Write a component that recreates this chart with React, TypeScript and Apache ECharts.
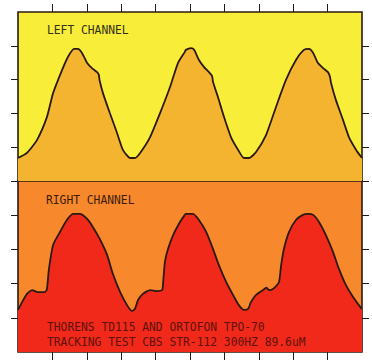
import React, { useEffect, useRef } from "react";
import * as echarts from "echarts";

// Horizontal position (0–100, ten divisions) and deflection (0–50, five divisions per channel)
const leftX = [0, 2.6, 5.5, 8.4, 10.2, 12.8, 14.5, 16.3, 17.4, 18.6, 20.1, 21.5, 23.0, 23.5, 23.7, 24.7, 26.7, 28.8, 30.5, 32.6, 34.0, 35.5, 38.4, 41.3, 44.2, 46.5, 48.5, 48.8, 50.3, 51.2, 52.6, 54.1, 55.5, 56.4, 56.7, 58.1, 59.9, 61.9, 64.0, 65.7, 67.2, 69.2, 72.1, 75.0, 77.9, 80.8, 83.1, 84.6, 85.8, 87.2, 88.7, 90.1, 90.7, 91.0, 92.4, 94.5, 96.2, 98.3, 100];
const leftY = [6.8, 8.3, 12.1, 18.9, 26.0, 32.8, 36.7, 39.1, 39.1, 37.9, 34.9, 33.4, 32.2, 31.4, 29.9, 26.0, 20.1, 14.2, 9.2, 6.8, 6.8, 8.3, 13.0, 20.1, 27.8, 34.9, 38.2, 38.8, 39.3, 38.8, 35.8, 33.7, 32.2, 31.1, 29.3, 24.9, 18.9, 13.0, 9.2, 6.8, 6.8, 8.6, 13.6, 21.9, 29.9, 35.8, 38.8, 39.1, 37.9, 34.9, 33.4, 32.2, 30.8, 29.0, 24.0, 18.0, 13.0, 9.2, 6.8];

const rightX = [0, 1.2, 2.6, 4.1, 5.8, 7.8, 8.4, 9.0, 10.2, 12.2, 14.2, 16.0, 18.0, 20.1, 21.8, 23.8, 25.9, 27.6, 29.7, 31.7, 33.1, 34.0, 34.9, 36.3, 38.4, 40.4, 41.9, 42.2, 42.7, 43.6, 45.1, 47.1, 48.5, 48.8, 50.9, 52.6, 54.7, 56.7, 58.4, 60.5, 62.5, 64.2, 65.7, 66.9, 67.7, 69.2, 71.2, 72.2, 73.0, 74.1, 75.3, 75.9, 76.5, 77.3, 78.8, 80.8, 82.8, 84.3, 85.8, 87.5, 89.5, 91.6, 93.3, 95.3, 97.4, 99.7, 100];
const rightY = [12.3, 14.6, 17.0, 18.1, 17.5, 17.5, 18.4, 24.3, 31.3, 35.1, 38.6, 40.4, 40.4, 38.9, 36.5, 33.0, 28.4, 22.8, 17.5, 13.7, 12.0, 12.6, 15.2, 17.0, 18.1, 17.8, 18.1, 20.5, 26.3, 30.1, 34.2, 38.0, 40.1, 40.4, 40.4, 38.6, 35.1, 30.1, 25.4, 20.5, 16.7, 13.7, 12.3, 12.6, 14.6, 16.7, 18.1, 18.8, 18.1, 18.4, 19.6, 20.5, 25.4, 30.1, 35.1, 38.6, 40.1, 40.4, 40.1, 38.0, 34.2, 29.2, 24.3, 19.6, 16.1, 12.9, 12.6];

const xTicks = [10, 20, 30, 40, 50, 60, 70, 80, 90];
const yTicksTop = [0, 10, 20, 30, 40];
const yTicksBottom = [10, 20, 30, 40];

const labelLeft = "LEFT CHANNEL";
const labelRight = "RIGHT CHANNEL";
const caption1 = "THORENS TD115 AND ORTOFON TPO-70";
const caption2 = "TRACKING TEST CBS STR-112 300HZ 89.6uM";

const INK = "#2a1a10";

export default function App() {
  const ref = useRef<HTMLDivElement>(null);
  useEffect(() => {
    if (!ref.current) return;
    const chart = echarts.init(ref.current, null, { renderer: "svg" });
    const zip = (xs: number[], ys: number[]) => xs.map((x, i) => [x, ys[i]]);
    const tick = (values: number[], length: number) => ({
      show: true,
      inside: false,
      length,
      customValues: values,
      lineStyle: { color: INK, width: 1 },
    });
    const xAxisBase = (gridIndex: number, position: string) => ({
      type: "value",
      gridIndex,
      position,
      min: 0,
      max: 100,
      interval: 10,
      axisLine: { show: false, onZero: false },
      axisTick: tick(xTicks, 8),
      axisLabel: { show: false },
      splitLine: { show: false },
    });
    const yAxisBase = (gridIndex: number, position: string, ticks: number[]) => ({
      type: "value",
      gridIndex,
      position,
      min: 0,
      max: 50,
      interval: 10,
      axisLine: { show: false, onZero: false },
      axisTick: tick(ticks, 7),
      axisLabel: { show: false },
      splitLine: { show: false },
    });
    const textEl = (s: string, x: number, y: number, fill: string) => ({
      type: "text",
      x,
      y,
      scaleX: 0.87,
      z: 100,
      style: {
        text: s,
        x: 0,
        y: 0,
        fill,
        font: "13px 'DejaVu Sans Mono'",
        textVerticalAlign: "middle",
      },
    });
    chart.setOption({
      animation: false,
      grid: [
        {
          left: 18,
          top: 12,
          width: 344,
          height: 169,
          show: true,
          backgroundColor: "#F8EE3A",
          borderColor: INK,
          borderWidth: 1.6,
          z: 0,
        },
        {
          left: 18,
          top: 181,
          width: 344,
          height: 171,
          show: true,
          backgroundColor: "#F7892C",
          borderColor: INK,
          borderWidth: 1.6,
          z: 0,
        },
      ],
      xAxis: [xAxisBase(0, "top"), xAxisBase(1, "bottom")],
      yAxis: [
        yAxisBase(0, "left", yTicksTop),
        yAxisBase(0, "right", yTicksTop),
        yAxisBase(1, "left", yTicksBottom),
        yAxisBase(1, "right", yTicksBottom),
      ],
      series: [
        {
          type: "line",
          xAxisIndex: 0,
          yAxisIndex: 0,
          data: zip(leftX, leftY),
          showSymbol: false,
          smooth: 0.2,
          lineStyle: { color: INK, width: 1.8 },
          areaStyle: { color: "#F4B430", opacity: 1, origin: "start" },
          z: 2,
        },
        {
          type: "line",
          xAxisIndex: 1,
          yAxisIndex: 2,
          data: zip(rightX, rightY),
          showSymbol: false,
          smooth: 0.2,
          lineStyle: { color: INK, width: 1.8 },
          areaStyle: { color: "#F0291B", opacity: 1, origin: "start" },
          z: 2,
        },
      ],
      graphic: [
        textEl(labelLeft, 47, 30, "#33301c"),
        textEl(labelRight, 46, 200, "#3a1c0e"),
        textEl(caption1, 47, 327, "#5e120c"),
        textEl(caption2, 47, 342, "#5e120c"),
      ],
    });
    return () => chart.dispose();
  }, []);
  return (
    <div
      ref={ref}
      style={{ position: "fixed", left: 0, top: 0, width: 372, height: 363, background: "#ffffff" }}
    />
  );
}
